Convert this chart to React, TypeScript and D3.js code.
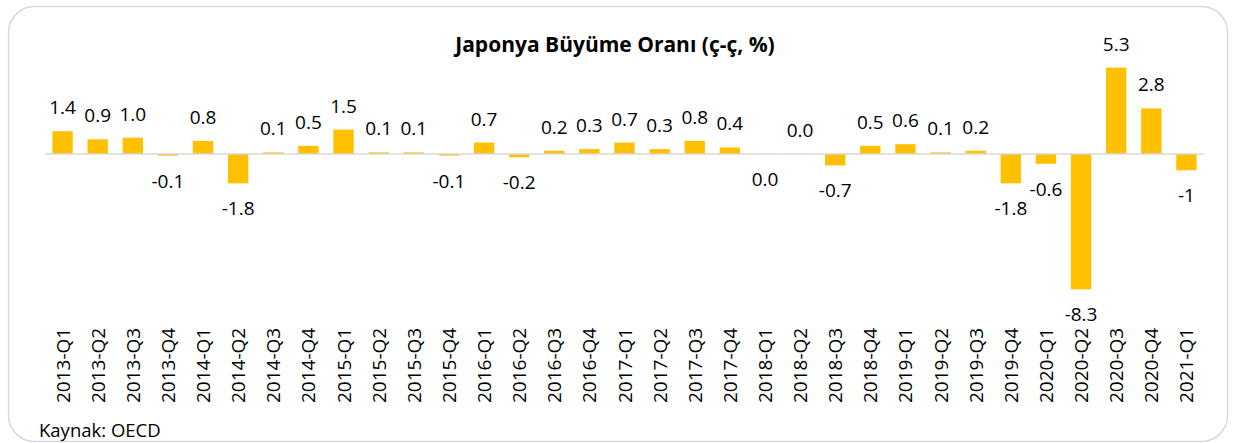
import React from "react";
import * as d3 from "d3";

const categories = [
  "2013-Q1", "2013-Q2", "2013-Q3", "2013-Q4",
  "2014-Q1", "2014-Q2", "2014-Q3", "2014-Q4",
  "2015-Q1", "2015-Q2", "2015-Q3", "2015-Q4",
  "2016-Q1", "2016-Q2", "2016-Q3", "2016-Q4",
  "2017-Q1", "2017-Q2", "2017-Q3", "2017-Q4",
  "2018-Q1", "2018-Q2", "2018-Q3", "2018-Q4",
  "2019-Q1", "2019-Q2", "2019-Q3", "2019-Q4",
  "2020-Q1", "2020-Q2", "2020-Q3", "2020-Q4",
  "2021-Q1",
];

const growth = [
  1.4, 0.9, 1.0, -0.1,
  0.8, -1.8, 0.1, 0.5,
  1.5, 0.1, 0.1, -0.1,
  0.7, -0.2, 0.2, 0.3,
  0.7, 0.3, 0.8, 0.4,
  -0.01, 0.01, -0.7, 0.5,
  0.6, 0.1, 0.2, -1.8,
  -0.6, -8.3, 5.3, 2.8,
  -1.0,
];

const valueLabels = [
  "1.4", "0.9", "1.0", "-0.1",
  "0.8", "-1.8", "0.1", "0.5",
  "1.5", "0.1", "0.1", "-0.1",
  "0.7", "-0.2", "0.2", "0.3",
  "0.7", "0.3", "0.8", "0.4",
  "0.0", "0.0", "-0.7", "0.5",
  "0.6", "0.1", "0.2", "-1.8",
  "-0.6", "-8.3", "5.3", "2.8",
  "-1",
];

const title = "Japonya Büyüme Oranı (ç-ç, %)";
const source = "Kaynak: OECD";

const W = 1235;
const H = 443;
const FONT = "'Open Sans', 'Liberation Sans', sans-serif";

export default function App() {
  const x = d3
    .scaleBand<string>()
    .domain(categories)
    .range([45, 1204])
    .paddingInner(0.42)
    .paddingOuter(0.21);

  const y = d3.scaleLinear().domain([-9, 6]).range([300.7, 56.2]);
  const y0 = y(0);

  return (
    <svg
      width={W}
      height={H}
      style={{ position: "absolute", left: 0, top: 0, background: "#fff" }}
      fontFamily={FONT}
    >
      <rect
        x={8.5}
        y={6.5}
        width={1219}
        height={435}
        rx={26}
        ry={26}
        fill="#fff"
        stroke="#d9d9d9"
        strokeWidth={1.5}
      />
      <text
        x={615}
        y={52}
        textAnchor="middle"
        fontSize={21}
        fontWeight="bold"
        fill="#000"
      >
        {title}
      </text>
      {categories.map((c, i) => {
        const v = growth[i];
        const bx = x(c) as number;
        const top = Math.min(y(v), y0);
        const h = Math.abs(y(v) - y0);
        return (
          <rect
            key={"b" + c}
            x={bx}
            y={top}
            width={x.bandwidth()}
            height={Math.max(h, 0)}
            fill="#FFC000"
          />
        );
      })}
      <line
        x1={45}
        x2={1204}
        y1={y0}
        y2={y0}
        stroke="#d9d9d9"
        strokeWidth={1.5}
      />
      {categories.map((c, i) => {
        const v = growth[i];
        const cx = (x(c) as number) + x.bandwidth() / 2;
        const ly = v >= 0 ? y(v) - 17 : y(v) + 32;
        return (
          <text
            key={"l" + c}
            x={cx}
            y={ly}
            textAnchor="middle"
            fontSize={19}
            fill="#000"
          >
            {valueLabels[i]}
          </text>
        );
      })}
      {categories.map((c) => {
        const cx = (x(c) as number) + x.bandwidth() / 2;
        return (
          <text
            key={"t" + c}
            transform={`translate(${cx + 7},403) rotate(-90)`}
            textAnchor="start"
            fontSize={19}
            fill="#000"
          >
            {c}
          </text>
        );
      })}
      <text x={39} y={437} fontSize={18.5} fill="#000">
        {source}
      </text>
    </svg>
  );
}
